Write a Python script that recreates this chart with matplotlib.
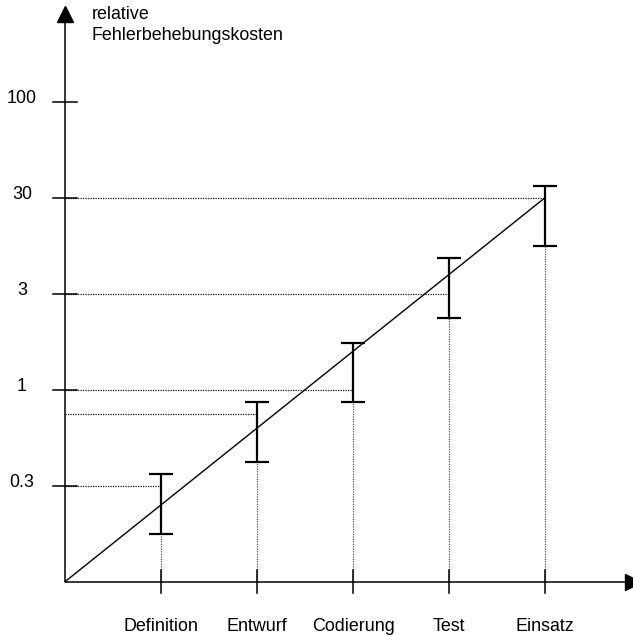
import matplotlib
matplotlib.use("Agg")
import matplotlib.pyplot as plt

plt.rcParams['font.family'] = ['Liberation Sans', 'DejaVu Sans']

# ---- data (schematic units: one category step = one label step) ----
stages = ['Definition', 'Entwurf', 'Codierung', 'Test', 'Einsatz']
stage_pos = [1, 2, 3, 4, 5]
cost_low = [0.50, 1.25, 1.875, 2.75, 3.50]
cost_high = [1.12, 1.87, 2.49, 3.37, 4.125]
trend = [0.8, 1.6, 2.4, 3.2, 4.0]
ytick_pos = [1, 2, 3, 4, 5]
ytick_labels = ['0.3', '1', '3', '30', '100']
guide_levels = [1.0, 1.75, 2.0, 3.0, 4.0]
guide_ends = [1, 2, 3, 4, 5]
ylabel_lines = ['relative', 'Fehlerbehebungskosten']

U = 96.0  # pixels per unit
fig = plt.figure(figsize=(6.33, 6.35), dpi=100)
ax = fig.add_axes([0, 0, 1, 1])
ax.set_xlim(-65 / U, (633 - 65) / U)
ax.set_ylim(-(635 - 581.7) / U, 581.7 / U)
ax.axis('off')

fs = 12.9
dot = (0, (1, 1))

# dotted guides
ax.hlines(guide_levels, 0, guide_ends, colors='#111111', linestyles=dot, lw=0.9)
ax.vlines(stage_pos, 0, cost_low, colors='#555555', linestyles=dot, lw=0.9)

# axes
ax.plot([0, 0], [0, 5.85], color='black', lw=1.1, solid_capstyle='butt')
ax.plot([0, 5.9], [0, 0], color='black', lw=1.1, solid_capstyle='butt')
ax.plot([0], [5.91], marker='^', color='black', markersize=11, clip_on=False)
ax.plot([5.92], [0], marker='>', color='black', markersize=11, clip_on=False)

# ticks
for p in ytick_pos:
    ax.plot([-0.125, 0.125], [p, p], color='black', lw=1.1)
for p in stage_pos:
    ax.plot([p, p], [-0.12, 0.12], color='black', lw=1.1)

# trend line
ax.plot([0] + stage_pos, [0] + trend, color='black', lw=1.0)

# error bars
mid = [(a + b) / 2 for a, b in zip(cost_low, cost_high)]
half = [(b - a) / 2 for a, b in zip(cost_low, cost_high)]
ax.errorbar(stage_pos, mid, yerr=half, fmt='none', ecolor='black',
            elinewidth=1.6, capsize=8.6, capthick=1.6)

# labels
for p, lab in zip(ytick_pos, ytick_labels):
    ax.text(-0.448, p - 0.014, lab, ha='center', va='baseline', fontsize=fs)
for p, lab in zip(stage_pos, stages):
    ax.text(p, -0.51, lab, ha='center', va='baseline', fontsize=fs)
ax.text(0.281, 5.858, ylabel_lines[0], ha='left', va='baseline', fontsize=fs)
ax.text(0.281, 5.643, ylabel_lines[1], ha='left', va='baseline', fontsize=fs)

fig.savefig('out.png', dpi=100)
